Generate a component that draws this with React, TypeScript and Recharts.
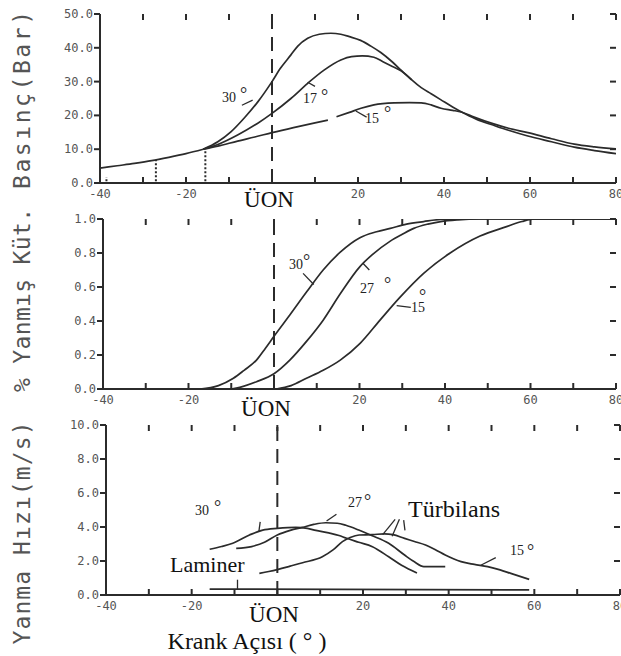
import React from "react";
import { LineChart, Line, XAxis, YAxis, ReferenceLine } from "recharts";

type Pt = [number, number | null];

// crank angle axis (shared by all three panels)
const crankTicks = [-40, -30, -20, -10, 0, 10, 20, 30, 40, 50, 60, 70, 80];
const crankLabels = [-40, -20, 20, 40, 60, 80];

// panel 1: cylinder pressure (bar)
const pressureTicks = [0, 10, 20, 30, 40, 50];
const pressureBase: Pt[] = [
  [-40, 4.4], [-36, 5.1], [-32, 5.8], [-28, 6.6], [-24, 7.6], [-20, 8.7], [-16, 10.0],
];
const pressure30: Pt[] = [
  [-16, 10.0], [-12.6, 12.2], [-9.5, 15.2], [-6.4, 19.3], [-3.3, 24], [0, 30], [2, 34],
  [4.4, 37.9], [6, 40.5], [8.3, 42.8], [11, 44], [13.7, 44.3], [16, 44], [18, 43.3],
  [20.6, 42.2], [23, 40.5], [25.3, 38.6], [28, 35.8], [30, 33.4], [32.5, 30.5],
  [34.7, 28.2], [37, 26.4], [39.3, 24.6], [42, 22.5], [45, 20.4], [48, 18.6], [51, 17.3],
  [55, 15.6], [59.5, 13.9], [65, 12.2], [70.3, 10.6], [75, 9.6], [80, 8.7],
];
const pressure17: Pt[] = [
  [-16, 10.0], [-12.6, 11.4], [-8, 14.2], [-3.3, 17.7], [0, 20.6], [4.4, 25], [8.3, 29.5],
  [12.1, 33.4], [16, 36.4], [18.5, 37.4], [21, 37.6], [23.7, 37.2], [25.8, 35.9],
  [28, 34.5], [30, 33.2], [32.5, 30.5],
];
const pressure15: Pt[] = [
  [-16, 10.0], [-12.6, 10.9], [-8, 12.4], [-4, 13.6], [0, 14.9], [5, 16.4], [10, 17.8],
  [13, 18.6], [14, null], [15, 19.6], [18, 20.9], [20.7, 22.1], [23.7, 23.1], [28.4, 23.7],
  [32, 23.8], [34.7, 23.7], [37, 23.1], [39.3, 22.1], [42, 21.5], [44, 21], [47, 19.5],
  [51, 17.7], [55, 16.2], [59.5, 14.9], [65, 13.1], [70.3, 11.5], [75, 10.7], [80, 10.1],
];
const sparkMarks: Pt[] = [[-38.5, 1.8], [-27, 6.8], [-15.5, 10]];

// panel 2: burned mass fraction
const fractionTicks = [0, 0.2, 0.4, 0.6, 0.8, 1.0];
const burned30: Pt[] = [
  [-17.3, 0], [-13, 0.02], [-9.5, 0.063], [-7, 0.11], [-4.1, 0.17], [-2, 0.24], [0, 0.31],
  [3.7, 0.435], [7.6, 0.57], [11.5, 0.7], [15.5, 0.805], [20.1, 0.89], [24, 0.925],
  [27.2, 0.945], [31, 0.97], [35, 0.985], [39, 0.997], [45, 1.0], [80, 1.0],
];
const burned27: Pt[] = [
  [-10, 0], [-8, 0.01], [-4.1, 0.043], [0, 0.09], [3.7, 0.17], [7.6, 0.28], [11.5, 0.405],
  [15.5, 0.56], [20.1, 0.72], [23, 0.79], [27.2, 0.87], [30, 0.91], [32.7, 0.945],
  [36, 0.97], [39, 0.985], [43, 0.995], [48, 1.0], [80, 1.0],
];
const burned15: Pt[] = [
  [0.5, 0], [4, 0.02], [7.6, 0.063], [11.5, 0.11], [15.5, 0.17], [20.2, 0.27], [24.8, 0.405],
  [29.5, 0.54], [35, 0.68], [41.2, 0.8], [48.2, 0.9], [54.4, 0.955], [58, 0.985],
  [61, 1.0], [80, 1.0],
];

// panel 3: flame speed (m/s)
const speedTicks = [0, 2, 4, 6, 8, 10];
const speed30: Pt[] = [
  [-15.8, 2.69], [-13, 2.85], [-10.4, 3.04], [-6.5, 3.53], [-3.4, 3.82], [0, 3.92],
  [4.3, 3.98], [7, 3.92], [9, 3.8], [12, 3.65], [14.4, 3.5], [16, 3.35], [19, 3.1],
  [22.2, 2.84], [26, 2.25], [29, 1.75], [32.6, 1.3],
];
const speed27: Pt[] = [
  [-9.6, 2.74], [-6, 2.85], [-3, 3.1], [0, 3.53], [3, 3.8], [5.9, 3.98], [8.5, 4.15],
  [11.3, 4.25], [14, 4.22], [16, 4.1], [19, 3.82], [22, 3.5], [26, 3.04], [29.7, 2.35],
  [32, 1.95], [34.2, 1.67], [39.2, 1.67],
];
const speed15: Pt[] = [
  [-4.2, 1.27], [-2, 1.38], [0.2, 1.51], [3, 1.7], [5.9, 1.9], [10.5, 2.25], [13, 2.65],
  [15.2, 3.14], [17, 3.38], [19.1, 3.53], [22.2, 3.55], [25, 3.6], [27, 3.55], [29.7, 3.33],
  [32, 3.15], [34.6, 2.94], [37, 2.65], [39.2, 2.35], [42.9, 1.96], [46, 1.8], [49.1, 1.67],
  [52, 1.48], [54.5, 1.27], [58.8, 0.92],
];
const speedLaminar: Pt[] = [[-15.8, 0.35], [58.8, 0.3]];

const rows = (pts: Pt[]) => pts.map(([x, y]) => ({ x, y }));

const ink = "#2b2b2b";
const mono = "'DejaVu Sans Mono', monospace";
const serif = "'Liberation Serif', 'Times New Roman', serif";
const frame = { stroke: ink, strokeWidth: 2 };
const TL = 6; // tick length, px
const W = 621;
const TOP = 14;
const XH = 20;

// custom tick renderers (tickSize 0 / tickMargin 0 so x,y sit on the axis line);
// each also draws the matching inward tick on the opposite side of the frame
const makeBottomTick = (plotH: number) => (p: any) => {
  const v = p.payload.value;
  return (
    <g>
      <line x1={p.x} x2={p.x} y1={p.y} y2={p.y - TL} stroke={ink} strokeWidth={2} />
      <line x1={p.x} x2={p.x} y1={p.y - plotH} y2={p.y - plotH + TL} stroke={ink} strokeWidth={2} />
      {crankLabels.includes(v) && (
        <text x={p.x} y={p.y + 15} textAnchor="middle" fontSize={12} fill="#555" fontFamily={mono}>{v}</text>
      )}
    </g>
  );
};
const makeLeftTick = (plotW: number) => (p: any) => (
  <g>
    <line x1={p.x} x2={p.x - TL} y1={p.y} y2={p.y} stroke={ink} strokeWidth={2} />
    <line x1={p.x + plotW} x2={p.x + plotW - TL} y1={p.y} y2={p.y} stroke={ink} strokeWidth={2} />
    <text x={p.x - TL - 1} y={p.y + 4} textAnchor="end" fontSize={12} fill="#555" fontFamily={mono}>
      {Number(p.payload.value).toFixed(1)}
    </text>
  </g>
);

type Seg = [number, number, number, number];

function Panel(props: {
  top: number;
  height: number;
  yWidth: number;
  right: number;
  yDomain: [number, number];
  yTicks: number[];
  series: Pt[][];
  segs?: Seg[];
  dotted?: Pt[];
}) {
  const { top, height, yWidth, right, yDomain, yTicks, series, segs = [], dotted = [] } = props;
  const plotH = height - TOP - XH;
  const plotW = W - right - yWidth;
  return (
    <div style={{ position: "absolute", left: 0, top }}>
      <LineChart width={W} height={height} margin={{ top: TOP, right, bottom: 0, left: 0 }}>
        <XAxis xAxisId="b" dataKey="x" type="number" domain={[-40, 80]} ticks={crankTicks}
          interval={0} tickSize={0} tickMargin={0} height={XH} axisLine={frame} tickLine={false}
          tick={makeBottomTick(plotH)} allowDataOverflow />
        <XAxis xAxisId="t" orientation="top" dataKey="x" type="number" domain={[-40, 80]}
          ticks={crankTicks} interval={0} height={0} axisLine={frame} tickLine={false}
          tick={false} allowDataOverflow />
        <YAxis yAxisId="l" type="number" domain={yDomain} ticks={yTicks} interval={0}
          width={yWidth} tickSize={0} tickMargin={0} axisLine={frame} tickLine={false}
          tick={makeLeftTick(plotW)} allowDataOverflow />
        <YAxis yAxisId="r" orientation="right" type="number" domain={yDomain} ticks={yTicks}
          interval={0} width={0} axisLine={frame} tickLine={false} tick={false} allowDataOverflow />
        <ReferenceLine xAxisId="b" yAxisId="l" x={0} stroke={ink} strokeWidth={2}
          strokeDasharray="14 8" />
        {dotted.map(([x, y], i) => (
          <ReferenceLine key={"d" + i} xAxisId="b" yAxisId="l" stroke={ink} strokeWidth={2}
            strokeDasharray="2 2" segment={[{ x, y: yDomain[0] + 0.5 }, { x, y: y as number }]} />
        ))}
        {series.map((s, i) => (
          <Line key={i} xAxisId="b" yAxisId="l" data={rows(s)} dataKey="y" type="monotone"
            stroke={ink} strokeWidth={1.7} dot={false} connectNulls={false}
            isAnimationActive={false} />
        ))}
        {segs.map(([x1, y1, x2, y2], i) => (
          <ReferenceLine key={"s" + i} xAxisId="b" yAxisId="l" stroke={ink} strokeWidth={1.3}
            segment={[{ x: x1, y: y1 }, { x: x2, y: y2 }]} />
        ))}
      </LineChart>
    </div>
  );
}

function Deg({ x, y, n, dx = 18, dy = -2 }: { x: number; y: number; n: string; dx?: number; dy?: number }) {
  return (
    <>
      <text x={x} y={y} fontSize={14} fontFamily={serif} fill="#222">{n}</text>
      <text x={x + dx} y={y + dy} fontSize={18} fontFamily={serif} fill="#222">°</text>
    </>
  );
}

export default function App() {
  return (
    <div style={{ position: "absolute", left: 0, top: 0, width: W, height: 656, background: "#fff", overflow: "hidden" }}>
      <Panel top={0} height={203} yWidth={100} right={5} yDomain={[0, 50]} yTicks={pressureTicks}
        series={[pressureBase, pressure30, pressure17, pressure15]} dotted={sparkMarks}
        segs={[[-7, 23, -4.5, 24.5], [8.3, 29.8, 10, 28.6], [19.5, 21.3, 22, 19.5]]} />
      <Panel top={205} height={204} yWidth={103} right={5} yDomain={[0, 1]} yTicks={fractionTicks}
        series={[burned30, burned27, burned15]}
        segs={[[6.8, 0.68, 9.3, 0.615], [20.8, 0.74, 22.3, 0.7], [28.7, 0.49, 32, 0.48]]} />
      <Panel top={411} height={204} yWidth={106} right={1} yDomain={[0, 10]} yTicks={speedTicks}
        series={[speed30, speed27, speed15, speedLaminar]}
        segs={[[-4.3, 3.75, -4.0, 4.3], [11.5, 4.35, 13.8, 4.75], [27.5, 4.45, 24.6, 3.55],
          [28.5, 4.45, 26.8, 3.45], [29.5, 4.4, 29.8, 3.8], [47.5, 1.75, 51, 2.2],
          [-9.3, 0.35, -9.3, 0.9]]} />
      <svg width={W} height={656} style={{ position: "absolute", left: 0, top: 0, pointerEvents: "none" }}>
        <g fontFamily={mono} fontSize={23} fill="#555">
          <text x={22} y={100} textAnchor="middle" dominantBaseline="central" textLength={178}
            lengthAdjust="spacing" transform="rotate(-90 22 100)">Basınç(Bar)</text>
          <text x={22} y={300} textAnchor="middle" dominantBaseline="central" textLength={184}
            lengthAdjust="spacing" transform="rotate(-90 22 300)">% Yanmış Küt.</text>
          <text x={22} y={533} textAnchor="middle" dominantBaseline="central" textLength={223}
            lengthAdjust="spacing" transform="rotate(-90 22 533)">Yanma Hızı(m/s)</text>
        </g>
        <Deg x={222} y={102} n="30" dx={18} dy={-2} />
        <Deg x={303} y={103} n="17" dx={18} dy={-1} />
        <Deg x={365} y={123} n="15" dx={19} dy={-4} />
        <Deg x={289} y={269} n="30" dx={14} dy={-2} />
        <Deg x={360} y={293} n="27" dx={24} dy={-3} />
        <Deg x={411} y={312} n="15" dx={8} dy={-10} />
        <Deg x={195} y={515} n="30" dx={19} dy={-2} />
        <Deg x={348} y={507} n="27" dx={16} dy={0} />
        <Deg x={510} y={555} n="15" dx={17} dy={2} />
        <g fontFamily={serif} fill="#111">
          <text x={269} y={207} fontSize={23} textAnchor="middle">ÜON</text>
          <text x={266} y={416} fontSize={23} textAnchor="middle">ÜON</text>
          <text x={274} y={622} fontSize={23} textAnchor="middle">ÜON</text>
          <text x={408} y={517} fontSize={24}>Türbilans</text>
          <text x={170} y={572} fontSize={22}>Laminer</text>
          <text x={247} y={649} fontSize={24} textAnchor="middle">Krank Açısı ( ° )</text>
        </g>
      </svg>
    </div>
  );
}
